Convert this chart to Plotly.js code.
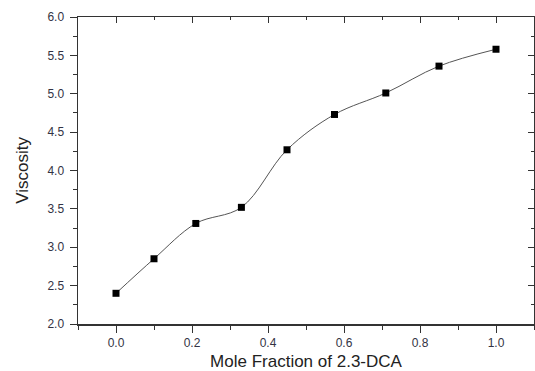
<!DOCTYPE html>
<html>
<head>
<meta charset="utf-8">
<script src="https://cdn.plot.ly/plotly-3.0.1.min.js"></script>
<style>html,body{margin:0;padding:0;background:#fff;}#chart{width:535px;height:371px;}</style>
</head>
<body>
<div id="chart"></div>
<script>
var moleFraction = [0.0, 0.1, 0.21, 0.33, 0.45, 0.575, 0.71, 0.85, 1.0];
var viscosity = [2.40, 2.85, 3.31, 3.52, 4.27, 4.73, 5.01, 5.36, 5.58];
var xTickVals = [0.0, 0.2, 0.4, 0.6, 0.8, 1.0];
var xTickText = ['0.0', '0.2', '0.4', '0.6', '0.8', '1.0'];
var yTickVals = [2.0, 2.5, 3.0, 3.5, 4.0, 4.5, 5.0, 5.5, 6.0];
var yTickText = ['2.0', '2.5', '3.0', '3.5', '4.0', '4.5', '5.0', '5.5', '6.0'];

var axisColor = '#333333';
var fontFam = 'Liberation Sans, Arial, sans-serif';
var tickFont = {family: fontFam, size: 12, color: '#333344'};
var titleFont = {family: fontFam, size: 17, color: '#222222'};

var traces = [
  {
    x: moleFraction, y: viscosity, type: 'scatter', mode: 'lines',
    line: {shape: 'spline', smoothing: 1, color: '#555555', width: 1},
    hoverinfo: 'skip', showlegend: false
  },
  {
    x: moleFraction, y: viscosity, type: 'scatter', mode: 'markers',
    marker: {symbol: 'square', size: 7, color: '#000000'},
    showlegend: false
  },
  {
    x: moleFraction, y: viscosity, xaxis: 'x2', yaxis: 'y2', type: 'scatter', mode: 'markers',
    marker: {opacity: 0}, hoverinfo: 'skip', showlegend: false
  }
];

var layout = {
  width: 535, height: 371,
  margin: {l: 78, r: 1, t: 17, b: 47},
  paper_bgcolor: '#ffffff', plot_bgcolor: '#ffffff',
  font: tickFont,
  xaxis: {
    range: [-0.1, 1.1], tickvals: xTickVals, ticktext: xTickText,
    ticks: 'outside', ticklen: 7, tickwidth: 1, tickcolor: axisColor,
    minor: {dtick: 0.1, tick0: 0, ticks: 'outside', ticklen: 4, tickcolor: axisColor, tickwidth: 1},
    showline: true, linecolor: axisColor, linewidth: 1.5,
    showgrid: false, zeroline: false, tickfont: tickFont,
    title: {text: 'Mole Fraction of 2.3-DCA', font: titleFont, standoff: 8}
  },
  yaxis: {
    range: [2, 6], tickvals: yTickVals, ticktext: yTickText,
    ticks: 'outside', ticklen: 7, tickwidth: 1, tickcolor: axisColor,
    minor: {dtick: 0.25, tick0: 2, ticks: 'outside', ticklen: 4, tickcolor: axisColor, tickwidth: 1},
    showline: true, linecolor: axisColor, linewidth: 1.5,
    showgrid: false, zeroline: false, tickfont: tickFont, ticklabelstandoff: 3,
    title: {text: 'Viscosity', font: titleFont, standoff: 14}
  },
  xaxis2: {
    overlaying: 'x', side: 'top', matches: 'x', range: [-0.1, 1.1], tickvals: xTickVals,
    showticklabels: false, ticks: 'inside', ticklen: 6, tickcolor: axisColor, tickwidth: 1,
    minor: {dtick: 0.1, tick0: 0, ticks: 'inside', ticklen: 3, tickcolor: axisColor, tickwidth: 1},
    showline: true, linecolor: axisColor, linewidth: 1.5, showgrid: false, zeroline: false
  },
  yaxis2: {
    overlaying: 'y', side: 'right', range: [2, 6], tickvals: yTickVals,
    showticklabels: false, ticks: 'inside', ticklen: 6, tickcolor: axisColor, tickwidth: 1,
    minor: {dtick: 0.25, tick0: 2, ticks: 'inside', ticklen: 3, tickcolor: axisColor, tickwidth: 1},
    showline: true, linecolor: axisColor, linewidth: 1.5, showgrid: false, zeroline: false
  }
};

Plotly.newPlot('chart', traces, layout, {displayModeBar: false, staticPlot: true});
</script>
</body>
</html>
